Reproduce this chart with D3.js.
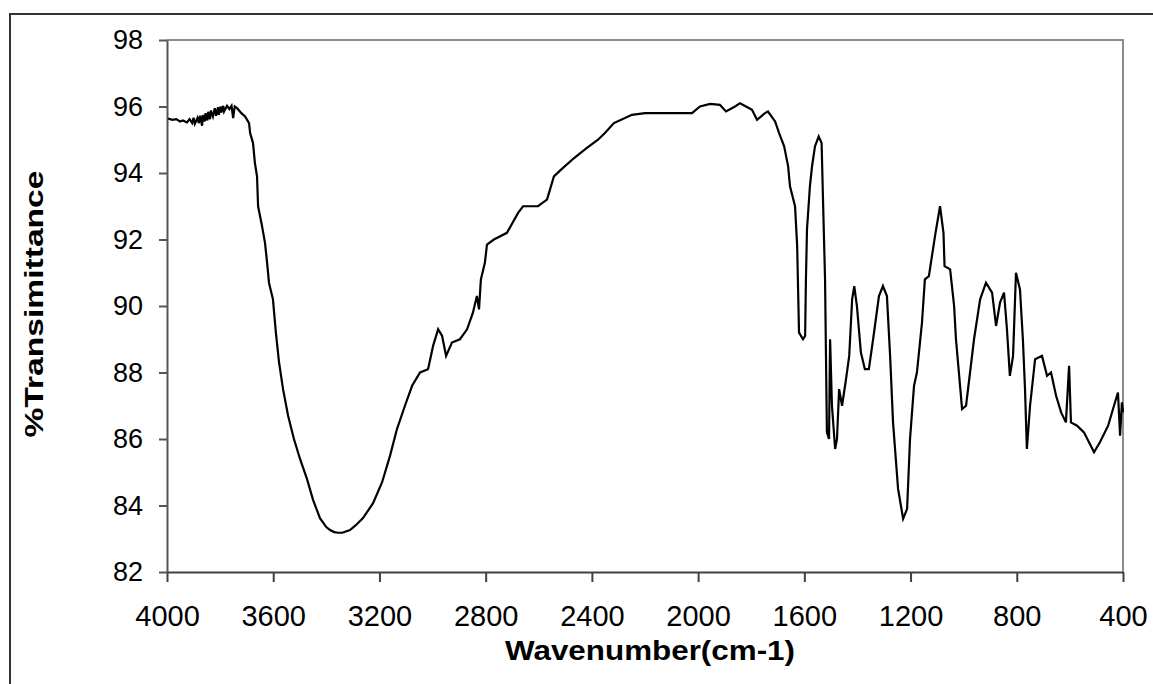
<!DOCTYPE html>
<html>
<head>
<meta charset="utf-8">
<script src="https://cdn.jsdelivr.net/npm/d3@7"></script>
<style>
  body { margin: 0; background: #fff; }
  text { font-family: Arial, "Liberation Sans", sans-serif; fill: #000; }
</style>
</head>
<body>
<div id="chart"></div>
<script>
// IR spectrum, wavenumber (cm-1) vs %T
var wavenumber = [
  3996, 3980, 3965, 3951, 3940, 3925, 3915, 3905, 3900, 3895,
  3885, 3880, 3875, 3868, 3865, 3858, 3855, 3848, 3845, 3838,
  3835, 3827, 3820, 3815, 3808, 3805, 3798, 3795, 3788, 3785,
  3774, 3765, 3757, 3751, 3745, 3736, 3720, 3706, 3691, 3687,
  3676, 3669, 3661, 3657, 3642, 3631, 3623, 3616, 3601, 3590,
  3578, 3563, 3544, 3522, 3499, 3473, 3450, 3424, 3400, 3386,
  3370, 3356, 3340, 3311, 3290, 3262, 3224, 3190, 3160, 3134,
  3104, 3077, 3047, 3017, 2998, 2979, 2964, 2949, 2927, 2897,
  2870, 2848, 2833, 2825, 2818, 2803, 2795, 2769, 2720, 2678,
  2659, 2603, 2569, 2543, 2516, 2467, 2420, 2377, 2351, 2317,
  2298, 2249, 2200, 2023, 1993, 1955, 1918, 1895, 1861, 1842,
  1797, 1778, 1748, 1737, 1710, 1695, 1676, 1661, 1654, 1635,
  1627, 1620, 1605, 1597, 1594, 1590, 1579, 1571, 1560, 1546,
  1535, 1530, 1522, 1515, 1507, 1503, 1496, 1484, 1477, 1469,
  1458, 1443, 1431, 1420, 1412, 1402, 1387, 1372, 1357, 1341,
  1319, 1304, 1289, 1277, 1266, 1247, 1228, 1213, 1202, 1187,
  1176, 1157, 1146, 1131, 1106, 1089, 1076, 1072, 1051, 1036,
  1029, 1018, 1006, 991, 976, 961, 938, 916, 893, 878,
  863, 848, 837, 826, 814, 803, 788, 777, 769, 762,
  750, 731, 705, 686, 671, 652, 633, 615, 603, 596,
  573, 547, 528, 509, 487, 456, 434, 419, 411, 404,
  400
];
var transmittance = [
  95.64, 95.60, 95.62, 95.55, 95.58, 95.52, 95.62, 95.50, 95.66, 95.48,
  95.66, 95.50, 95.72, 95.42, 95.74, 95.55, 95.80, 95.58, 95.84, 95.62,
  95.88, 95.70, 95.95, 95.72, 95.98, 95.75, 96.00, 95.82, 96.02, 95.85,
  96.02, 95.92, 96.02, 95.65, 96.00, 95.95, 95.80, 95.70, 95.50, 95.20,
  94.90, 94.30, 93.90, 93.00, 92.40, 91.90, 91.30, 90.70, 90.20, 89.20,
  88.30, 87.50, 86.70, 86.00, 85.40, 84.80, 84.17, 83.62, 83.35, 83.26,
  83.20, 83.18, 83.18, 83.26, 83.40, 83.62, 84.07, 84.70, 85.50, 86.30,
  87.00, 87.60, 88.00, 88.10, 88.80, 89.30, 89.10, 88.50, 88.90, 89.00,
  89.30, 89.80, 90.30, 89.90, 90.80, 91.30, 91.85, 92.00, 92.20, 92.80,
  93.00, 93.00, 93.20, 93.90, 94.10, 94.45, 94.75, 95.00, 95.20, 95.50,
  95.57, 95.75, 95.80, 95.80, 96.00, 96.08, 96.05, 95.85, 96.00, 96.10,
  95.90, 95.60, 95.80, 95.85, 95.55, 95.20, 94.80, 94.20, 93.60, 93.00,
  91.80, 89.20, 89.00, 89.10, 90.80, 92.30, 93.60, 94.20, 94.80, 95.10,
  94.90, 93.30, 90.80, 86.20, 86.00, 89.00, 87.00, 85.70, 86.00, 87.50,
  87.00, 87.80, 88.50, 90.20, 90.60, 90.00, 88.60, 88.10, 88.10, 89.00,
  90.30, 90.60, 90.30, 88.50, 86.50, 84.50, 83.60, 83.90, 86.00, 87.60,
  88.00, 89.50, 90.80, 90.90, 92.20, 93.00, 92.20, 91.20, 91.10, 90.00,
  89.00, 88.00, 86.90, 87.00, 88.00, 89.00, 90.20, 90.70, 90.40, 89.40,
  90.10, 90.40, 89.30, 87.90, 88.50, 91.00, 90.50, 89.00, 87.50, 85.70,
  87.00, 88.40, 88.50, 87.90, 88.00, 87.30, 86.80, 86.50, 88.20, 86.50,
  86.40, 86.20, 85.90, 85.60, 85.90, 86.40, 87.00, 87.40, 86.10, 87.10,
  86.80
];
var xTicks = [4000, 3600, 3200, 2800, 2400, 2000, 1600, 1200, 800, 400];
var yTicks = [82, 84, 86, 88, 90, 92, 94, 96, 98];
var xTitle = "Wavenumber(cm-1)";
var yTitle = "%Transimittance";

function drawChart() {
    var width = 1153, height = 684;
    var plotLeft = 167, plotRight = 1123, plotTop = 40, plotBottom = 572;

    var svg = d3.select("#chart")
        .append("svg")
        .attr("width", width)
        .attr("height", height);

    // outer frame of the chart object
    svg.append("rect")
        .attr("x", 10)
        .attr("y", 14)
        .attr("width", 1160)
        .attr("height", 700)
        .attr("fill", "none")
        .attr("stroke", "#333")
        .attr("stroke-width", 2);

    var x = d3.scaleLinear().domain([4000, 400]).range([plotLeft, plotRight]);
    var y = d3.scaleLinear().domain([82, 98]).range([plotBottom, plotTop]);

    // plot area top / right border
    svg.append("path")
        .attr("d", "M" + plotLeft + "," + plotTop + "H" + plotRight + "V" + plotBottom)
        .attr("fill", "none")
        .attr("stroke", "#8c8c8c")
        .attr("stroke-width", 2);

    var xAxis = svg.append("g")
        .attr("transform", "translate(0," + plotBottom + ")")
        .call(d3.axisBottom(x).tickValues(xTicks).tickFormat(d3.format("d"))
            .tickSize(10).tickSizeOuter(0).tickPadding(23));

    var yAxis = svg.append("g")
        .attr("transform", "translate(" + plotLeft + ",0)")
        .call(d3.axisLeft(y).tickValues(yTicks).tickFormat(d3.format("d"))
            .tickSize(8).tickSizeOuter(0).tickPadding(16));

    xAxis.selectAll("path, line").attr("stroke", "#404040").attr("stroke-width", 2);
    yAxis.selectAll("path, line").attr("stroke", "#555").attr("stroke-width", 2);
    xAxis.selectAll("text").attr("font-size", 29).attr("font-family", "Arial, 'Liberation Sans', sans-serif").attr("fill", "#000");
    yAxis.selectAll("text").attr("font-size", 27).attr("font-family", "Arial, 'Liberation Sans', sans-serif").attr("fill", "#000");

    var points = wavenumber.map(function(w, i) {
        return { w: w, t: transmittance[i] };
    });

    var line = d3.line()
        .x(function(d) { return x(d.w); })
        .y(function(d) { return y(d.t); });

    svg.append("path")
        .datum(points)
        .attr("d", line)
        .attr("fill", "none")
        .attr("stroke", "#000")
        .attr("stroke-width", 2.2)
        .attr("stroke-linejoin", "miter");

    svg.append("text")
        .attr("x", 650)
        .attr("y", 660)
        .attr("text-anchor", "middle")
        .attr("font-size", 27)
        .attr("font-weight", "bold")
        .attr("textLength", 290)
        .attr("lengthAdjust", "spacingAndGlyphs")
        .text(xTitle);

    svg.append("text")
        .attr("transform", "translate(43,304) rotate(-90)")
        .attr("text-anchor", "middle")
        .attr("font-size", 26)
        .attr("font-weight", "bold")
        .attr("textLength", 267)
        .attr("lengthAdjust", "spacingAndGlyphs")
        .text(yTitle);
}

drawChart();
</script>
</body>
</html>
